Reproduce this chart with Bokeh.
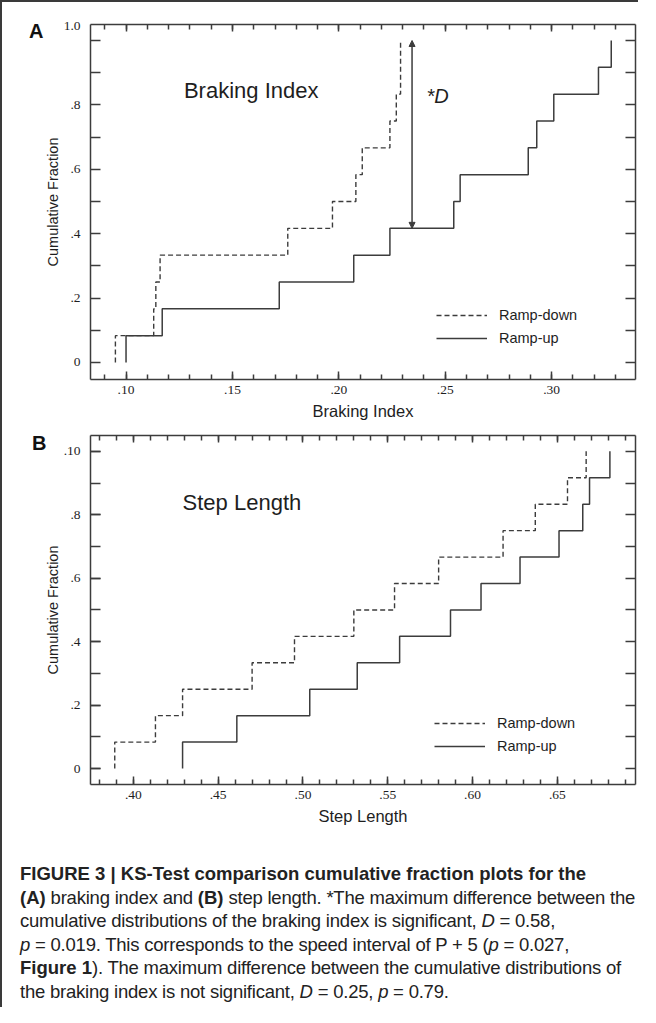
import numpy as np
from bokeh.plotting import figure
from bokeh.models import (Range1d, LinearAxis, FixedTicker, Label, Arrow, NormalHead,
                          Div, CustomJSTickFormatter)
from bokeh.layouts import column
from bokeh.embed import file_html
from bokeh.resources import INLINE

# ---------------- data ----------------
SERIES = ["Ramp-down", "Ramp-up"]

# Panel A: braking index samples (12 per condition)
BI_RAMP_DOWN = [0.095, 0.113, 0.114, 0.116, 0.176, 0.197, 0.208, 0.211, 0.224, 0.227, 0.229, 0.229]
BI_RAMP_UP = [0.100, 0.117, 0.172, 0.207, 0.224, 0.254, 0.257, 0.289, 0.293, 0.301, 0.322, 0.328]

# Panel B: step length samples (12 per condition)
SL_RAMP_DOWN = [0.389, 0.413, 0.429, 0.470, 0.495, 0.530, 0.554, 0.580, 0.618, 0.637, 0.656, 0.667]
SL_RAMP_UP = [0.429, 0.461, 0.504, 0.532, 0.557, 0.587, 0.605, 0.628, 0.651, 0.665, 0.669, 0.681]

BI_XTICKS = [0.10, 0.15, 0.20, 0.25, 0.30]
BI_XTICK_LABELS = [".10", ".15", ".20", ".25", ".30"]
SL_XTICKS = [0.40, 0.45, 0.50, 0.55, 0.60, 0.65]
SL_XTICK_LABELS = [".40", ".45", ".50", ".55", ".60", ".65"]
Y_TICKS = [0.0, 0.2, 0.4, 0.6, 0.8, 1.0]
BI_YTICK_LABELS = ["0", ".2", ".4", ".6", ".8", "1.0"]
SL_YTICK_LABELS = ["0", ".2", ".4", ".6", ".8", ".10"]

D_AT = 0.2344  # braking index where the KS distance D is drawn

CAPTION_LINES = [
    "<b>FIGURE 3 | KS-Test comparison cumulative fraction plots for the</b>",
    "<b>(A)</b> braking index and <b>(B)</b> step length. *The maximum difference between the",
    "cumulative distributions of the braking index is significant, <i>D</i> = 0.58,",
    "<i>p</i> = 0.019. This corresponds to the speed interval of P + 5 (<i>p</i> = 0.027,",
    "<b>Figure 1</b>). The maximum difference between the cumulative distributions of",
    "the braking index is not significant, <i>D</i> = 0.25, <i>p</i> = 0.79.",
]

# ---------------- styles ----------------
INK = "#3c3c3c"
TXT = "#1e1e1e"
SANS = "Liberation Sans"
SERIF = "Liberation Serif"
DASH = "5 3"


def ecdf_xy(samples):
    s = np.sort(np.asarray(samples, dtype=float))
    n = len(s)
    xs = np.concatenate([[s[0]], s])
    ys = np.arange(n + 1) / n
    return xs, ys


def ecdf_at(samples, x):
    s = np.asarray(samples, dtype=float)
    return float(np.mean(s <= x))


def style_ticks(ax, major_len, minor_len):
    ax.major_tick_in = major_len
    ax.major_tick_out = 0
    ax.minor_tick_in = minor_len
    ax.minor_tick_out = 0
    ax.axis_line_color = INK
    ax.axis_line_width = 1.5
    ax.major_tick_line_color = INK
    ax.minor_tick_line_color = INK
    ax.major_tick_line_width = 1.5
    ax.minor_tick_line_width = 1.5


def mirror_axis(ticker, tick_len, minor_len):
    ax = LinearAxis(ticker=ticker)
    ax.formatter = CustomJSTickFormatter(code="return ''")
    ax.major_label_standoff = 0
    ax.major_label_text_font_size = "0px"
    style_ticks(ax, tick_len, minor_len)
    return ax


def make_panel(down, up, xr, yr, xticks, xlabels, xminor, ylabels, ylabel_pos,
               ymajor_len, xlabel, title, title_xy,
               width, height, borders, legend_loc):
    p = figure(width=width, height=height, output_backend="svg", toolbar_location=None,
               x_range=Range1d(*xr), y_range=Range1d(*yr),
               min_border_left=borders[0], min_border_right=borders[1],
               min_border_top=borders[2], min_border_bottom=borders[3])
    p.grid.visible = False
    p.outline_line_color = None
    p.background_fill_color = "white"
    p.border_fill_color = "white"

    yminor = list(np.round(np.arange(0, 1.0001, 0.1), 2))

    # bottom axis
    xa = p.xaxis[0]
    xa.ticker = FixedTicker(ticks=xticks, minor_ticks=xminor)
    xa.major_label_overrides = {t: l for t, l in zip(xticks, xlabels)}
    xa.major_label_text_font = SERIF
    xa.major_label_text_font_size = "13.5px"
    xa.major_label_text_color = TXT
    xa.major_label_standoff = 6
    style_ticks(xa, 8, 5)
    xa.axis_label = xlabel
    xa.axis_label_text_font = SANS
    xa.axis_label_text_font_style = "normal"
    xa.axis_label_text_font_size = "16.5px"
    xa.axis_label_text_color = TXT
    xa.axis_label_standoff = 5

    # left axis
    ya = p.yaxis[0]
    ya.ticker = FixedTicker(ticks=ylabel_pos, minor_ticks=yminor)
    ya.major_label_overrides = {t: l for t, l in zip(ylabel_pos, ylabels)}
    ya.major_label_text_font = SERIF
    ya.major_label_text_font_size = "13.5px"
    ya.major_label_text_color = TXT
    ya.major_label_standoff = 10
    style_ticks(ya, ymajor_len, 10)
    ya.axis_label = "Cumulative Fraction"
    ya.axis_label_text_font = SANS
    ya.axis_label_text_font_style = "normal"
    ya.axis_label_text_font_size = "14.5px"
    ya.axis_label_text_color = TXT
    ya.axis_label_standoff = 0

    p.add_layout(mirror_axis(FixedTicker(ticks=xticks, minor_ticks=xminor), 7, 5), "above")
    p.add_layout(mirror_axis(FixedTicker(ticks=[], minor_ticks=yminor), 10, 10), "right")

    xd, yd = ecdf_xy(down)
    xu, yu = ecdf_xy(up)
    p.step(xd, yd, mode="after", line_color=INK, line_width=1.4, line_dash=DASH,
           legend_label=SERIES[0])
    p.step(xu, yu, mode="after", line_color=INK, line_width=1.5,
           legend_label=SERIES[1])

    lg = p.legend[0]
    lg.location = legend_loc
    lg.glyph_width = 51
    lg.glyph_height = 20
    lg.label_height = 20
    lg.spacing = 3
    lg.label_standoff = 12
    lg.padding = 0
    lg.margin = 0
    lg.border_line_color = None
    lg.background_fill_alpha = 0
    lg.label_text_font = SANS
    lg.label_text_font_size = "14.5px"
    lg.label_text_color = TXT

    p.add_layout(Label(x=title_xy[0], y=title_xy[1], text=title, text_font=SANS,
                       text_font_size="22px", text_color=TXT, text_baseline="middle",
                       text_align="left"))
    return p


# ---------------- Panel A ----------------
bi_minor = list(np.round(np.arange(0.09, 0.3351, 0.01), 2))
pA = make_panel(BI_RAMP_DOWN, BI_RAMP_UP, (0.0833, 0.3394), (-0.0528, 1.0497),
                BI_XTICKS, BI_XTICK_LABELS, bi_minor,
                BI_YTICK_LABELS, Y_TICKS[:-1] + [1.044], 0,
                "Braking Index", "Braking Index", (0.1272, 0.845),
                636, 422, (85, 3, 22, 45), (346, 31))

# KS distance D for the braking index
d_low = ecdf_at(BI_RAMP_UP, D_AT)
d_high = ecdf_at(BI_RAMP_DOWN, D_AT)
pA.add_layout(Arrow(x_start=D_AT, y_start=d_low, x_end=D_AT, y_end=d_high,
                    line_color=INK, line_width=1.5,
                    start=NormalHead(size=6, fill_color=INK, line_color=INK),
                    end=NormalHead(size=6, fill_color=INK, line_color=INK)))
pA.add_layout(Label(x=D_AT + 0.012, y=(d_low + d_high) / 2 + 0.12, text="*D",
                    text_font=SANS, text_font_size="20px", text_font_style="italic",
                    text_color=TXT, text_baseline="middle", text_align="center"))

# ---------------- Panel B ----------------
sl_minor = list(np.round(np.arange(0.38, 0.6951, 0.01), 2))
pB = make_panel(SL_RAMP_DOWN, SL_RAMP_UP, (0.3747, 0.6961), (-0.0504, 1.050),
                SL_XTICKS, SL_XTICK_LABELS, sl_minor,
                SL_YTICK_LABELS, Y_TICKS, 10,
                "Step Length", "Step Length", (0.429, 0.84),
                636, 405, (88, 2, 11, 45), (344, 28))

# ---------------- caption (with the panel letters placed over the panels) ----------------
letter_css = ("position:absolute; font-family:'Liberation Sans', Arial, sans-serif; "
              "font-weight:bold; font-size:20px; line-height:20px; color:#111; z-index:5;")
caption_html = (
    '<style>b{letter-spacing:0;}</style>'
    '<div style="position:relative; width:100%; height:100%;">'
    f'<div style="{letter_css} left:27px; top:-808px;">A</div>'
    f'<div style="{letter_css} left:30px; top:-396px;">B</div>'
    '<div style="font-family: \'Liberation Sans\', Arial, sans-serif; '
    'font-size: 18.5px; line-height: 23.5px; color: #222; padding: 33px 0 0 18px; '
    'letter-spacing: -0.22px; white-space: nowrap;">' + "<br>".join(CAPTION_LINES) + "</div></div>"
)
cap = Div(text=caption_html, width=636, height=178, margin=0,
          styles={"overflow": "visible"})

layout = column(pA, pB, cap, spacing=0,
                styles={"border-top": "2px solid #3a3a3a", "border-left": "2px solid #3a3a3a"})

open("out.html", "w").write(file_html(layout, INLINE))
